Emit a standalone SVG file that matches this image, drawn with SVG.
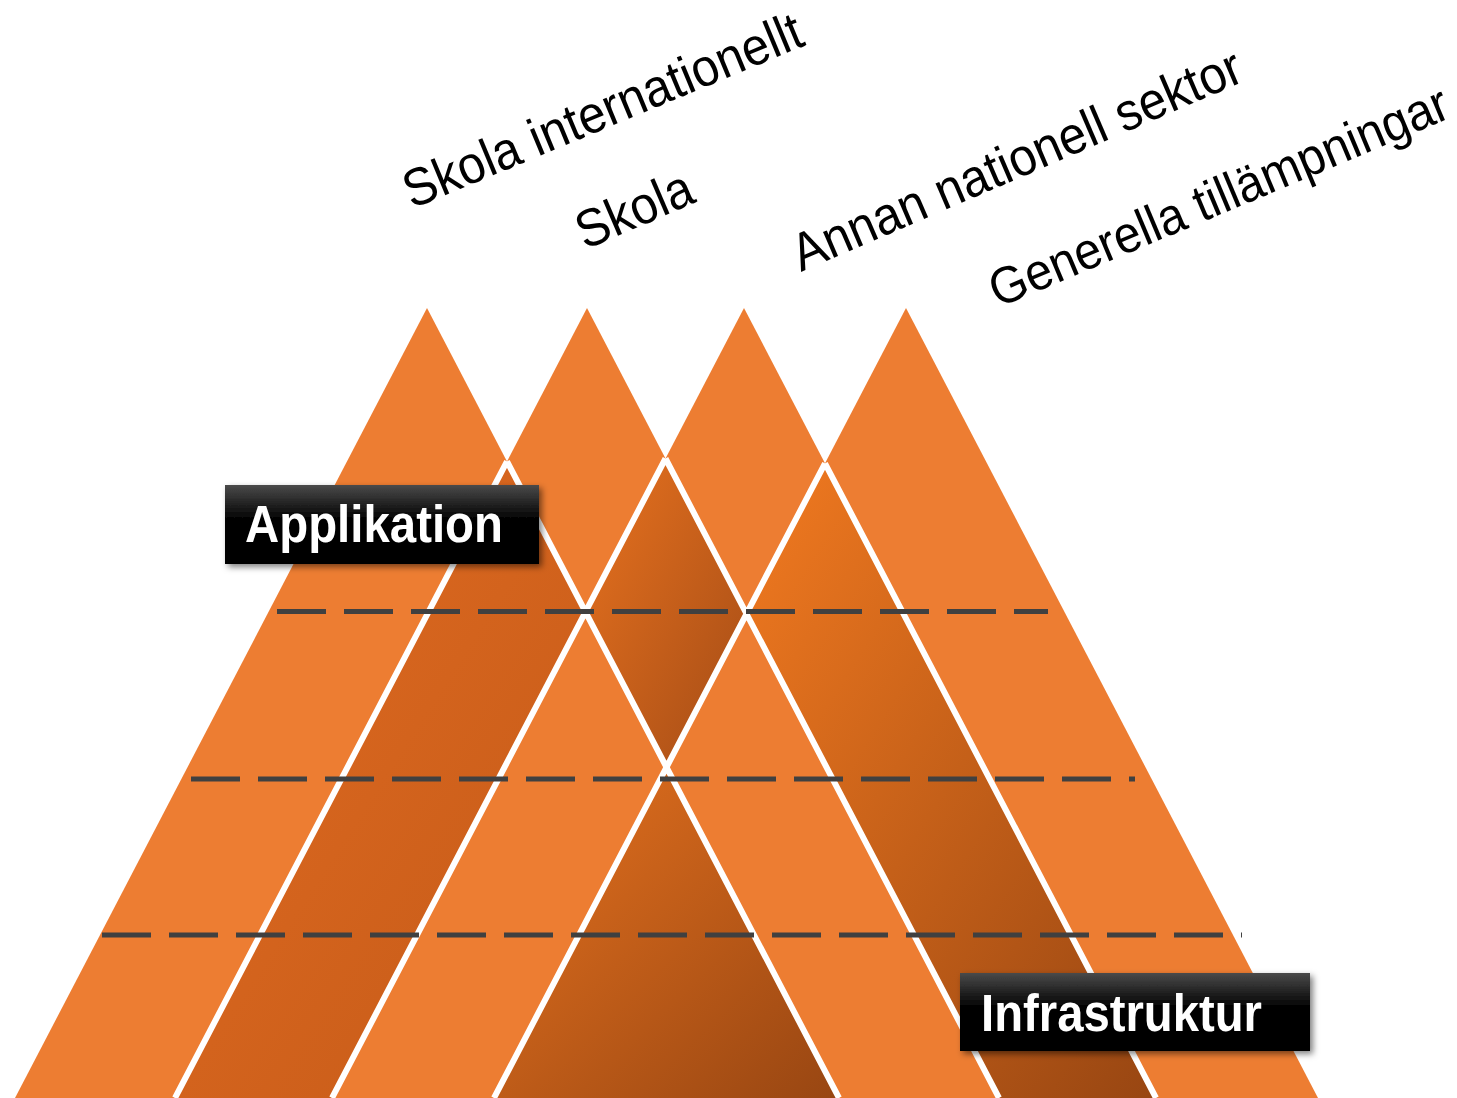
<svg xmlns="http://www.w3.org/2000/svg" width="1457" height="1098" viewBox="0 0 1457 1098">
<style>
.tri{fill:#ED7D32}
.sep{stroke:#FFFFFF;stroke-width:6;fill:none}
.dash{stroke:#404040;stroke-width:5;stroke-dasharray:49 18;fill:none}
.lbl{font-family:"Liberation Sans",Arial,sans-serif;font-size:49px;fill:#000}
.btxt{font-family:"Liberation Sans",Arial,sans-serif;font-weight:bold;font-size:51px;fill:#FFFFFF}
</style>
<defs>
<linearGradient id="gA" x1="0" y1="0" x2="1" y2="1"><stop offset="0" stop-color="#E26C22"/><stop offset="1" stop-color="#C45A18"/></linearGradient>
<linearGradient id="gB" x1="0" y1="0" x2="1" y2="1"><stop offset="0" stop-color="#E8721F"/><stop offset="1" stop-color="#A44C16"/></linearGradient>
<linearGradient id="gC" x1="0" y1="0" x2="1" y2="1"><stop offset="0" stop-color="#F27A20"/><stop offset="1" stop-color="#984612"/></linearGradient>
<linearGradient id="gD" x1="0" y1="0" x2="1" y2="1"><stop offset="0" stop-color="#E6721F"/><stop offset="1" stop-color="#984612"/></linearGradient>
<linearGradient id="gBox" x1="0" y1="0" x2="0" y2="1"><stop offset="0" stop-color="#4A4A4A"/><stop offset="0.45" stop-color="#000"/><stop offset="1" stop-color="#000"/></linearGradient>
<filter id="sh" x="-10%" y="-20%" width="130%" height="150%"><feDropShadow dx="3" dy="3" stdDeviation="3" flood-color="#000" flood-opacity="0.5"/></filter>
</defs>
<g id="triangles">
<polygon id="t1" class="tri" points="427,308 839,1098 15,1098"/>
<polygon id="t2" class="tri" points="587,308 999,1098 175,1098"/>
<polygon id="t3" class="tri" points="744,308 1156,1098 332,1098"/>
<polygon id="t4" class="tri" points="906,308 1318,1098 494,1098"/>
</g>
<g id="overlaps">
<polygon id="ovA" fill="url(#gA)" points="507,461.4 585.5,611.9 332,1098 175,1098"/>
<polygon id="ovB" fill="url(#gB)" points="665.5,458.5 746.5,613.8 666.5,767.2 585.5,611.9"/>
<polygon id="ovC" fill="url(#gC)" points="825,463.3 1156,1098 999,1098 746.5,613.8"/>
<polygon id="ovD" fill="url(#gD)" points="666.5,767.2 839,1098 494,1098"/>
</g>
<g id="connectors">
<path class="sep" d="M507,461.4 L175,1098 M507,461.4 L839,1098 M665.5,458.5 L332,1098 M665.5,458.5 L999,1098 M825,463.3 L494,1098 M825,463.3 L1156,1098"/>
<line class="dash" x1="277" y1="611.5" x2="1048" y2="611.5"/>
<line class="dash" x1="191" y1="779" x2="1135" y2="779"/>
<line class="dash" x1="102" y1="935" x2="1242" y2="935"/>
</g>
<g id="label-skola-int"><text class="lbl" transform="translate(412,209) rotate(-22.6) scale(1,1.08)">Skola internationellt</text></g>
<g id="label-skola"><text class="lbl" transform="translate(585,250) rotate(-23.3) scale(1,1.08)">Skola</text></g>
<g id="label-annan"><text class="lbl" transform="translate(801,272) rotate(-23.3) scale(1,1.08)">Annan nationell sektor</text></g>
<g id="label-generella"><text class="lbl" style="font-size:48px" transform="translate(998,308) rotate(-22.8) scale(1,1.08)">Generella tillämpningar</text></g>
<g id="box-applikation">
<rect x="225" y="485" width="314" height="79" fill="url(#gBox)" filter="url(#sh)"/>
<text class="btxt" x="245" y="542" textLength="258" lengthAdjust="spacingAndGlyphs">Applikation</text>
</g>
<g id="box-infrastruktur">
<rect x="960" y="973" width="350" height="78" fill="url(#gBox)" filter="url(#sh)"/>
<text class="btxt" x="981" y="1031" textLength="281" lengthAdjust="spacingAndGlyphs">Infrastruktur</text>
</g>
</svg>
